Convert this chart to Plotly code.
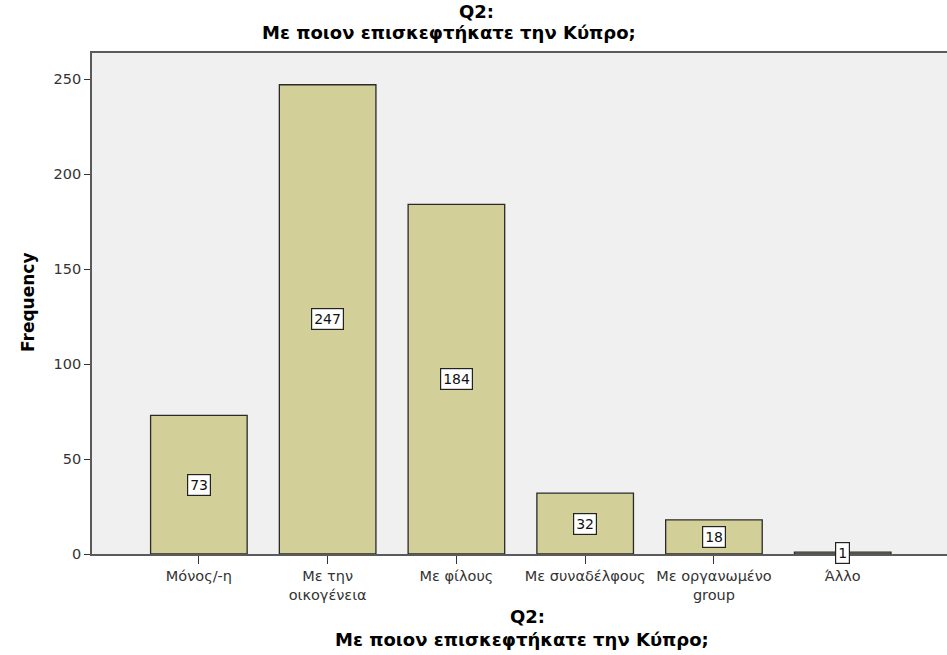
import plotly.graph_objects as go

categories = ["Μόνος/-η", "Με την<br>οικογένεια", "Με φίλους", "Με συναδέλφους",
              "Με οργανωμένο<br>group", "Άλλο"]
frequencies = [73, 247, 184, 32, 18, 1]
y_ticks = [0, 50, 100, 150, 200, 250]
title_line1 = "Q2:"
title_line2 = "Με ποιον επισκεφτήκατε την Κύπρο;"
y_title = "Frequency"

FONT = "DejaVu Sans, Liberation Sans, Arial"

# plot-area geometry in pixels (for placing the outer texts)
L, R, T, B = 92, 947, 53, 554


def px(xp):
    return (xp - L) / (R - L)


def py(yp):
    return (B - yp) / (B - T)


fig = go.Figure()
fig.add_trace(go.Bar(
    x=list(range(len(categories))),
    y=frequencies,
    width=0.75,
    marker=dict(color="#d3cf98", line=dict(color="#2a2a2a", width=1.3)),
    hoverinfo="skip",
))

for i, v in enumerate(frequencies):
    fig.add_annotation(
        x=i, y=v / 2, text=str(v), showarrow=False,
        font=dict(family=FONT, size=14, color="#111111"),
        bgcolor="white", bordercolor="#222222", borderwidth=1.2, borderpad=2,
    )

title_font = dict(family=FONT, size=18, color="#000000")
# top title (two lines placed separately for tight line spacing)
fig.add_annotation(xref="paper", yref="paper", x=px(476), y=py(24),
                   xanchor="center", yanchor="bottom",
                   text=f"<b>{title_line1}</b>", showarrow=False, font=title_font)
fig.add_annotation(xref="paper", yref="paper", x=px(449), y=py(45),
                   xanchor="center", yanchor="bottom",
                   text=f"<b>{title_line2}</b>", showarrow=False, font=title_font)
# bottom (x axis) title
fig.add_annotation(xref="paper", yref="paper", x=px(527), y=py(629),
                   xanchor="center", yanchor="bottom",
                   text=f"<b>{title_line1}</b>", showarrow=False, font=title_font)
fig.add_annotation(xref="paper", yref="paper", x=px(522), y=py(652),
                   xanchor="center", yanchor="bottom",
                   text=f"<b>{title_line2}</b>", showarrow=False, font=title_font)
# y axis title
fig.add_annotation(xref="paper", yref="paper", x=px(28), y=py(302),
                   xanchor="center", yanchor="middle", textangle=-90,
                   text=f"<b>{y_title}</b>", showarrow=False,
                   font=dict(family=FONT, size=17, color="#000000"))

fig.update_layout(
    width=947, height=655,
    margin=dict(l=L, r=947 - R, t=T, b=655 - B, autoexpand=False),
    paper_bgcolor="white",
    plot_bgcolor="#f0f0f0",
    showlegend=False,
    font=dict(family=FONT, color="#333333"),
    xaxis=dict(
        tickmode="array",
        tickvals=list(range(len(categories))),
        ticktext=categories,
        range=[-0.83, 5.81],
        showgrid=False, zeroline=False,
        showline=True, linecolor="#5a5a5a", linewidth=1.6, mirror=True,
        ticks="outside", ticklen=8, tickcolor="#333333", tickwidth=1.3,
        tickfont=dict(family=FONT, size=14.5, color="#333333"),
    ),
    yaxis=dict(
        range=[0, 263.7],
        tickmode="array", tickvals=y_ticks,
        showgrid=False, zeroline=False,
        showline=True, linecolor="#5a5a5a", linewidth=1.8, mirror=True,
        ticks="outside", ticklen=6, tickcolor="#333333", tickwidth=1.3,
        tickfont=dict(family=FONT, size=14.5, color="#333333"),
    ),
)

fig.write_html("out.html", config={"displayModeBar": False},
               post_script="document.body.style.margin='0';")
